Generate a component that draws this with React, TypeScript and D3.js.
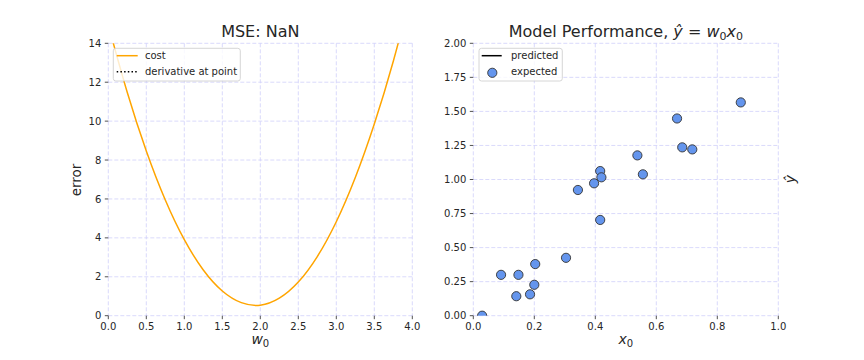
import * as d3 from 'd3'

// cost curve (w0 -> error)
const costW = [0, 0.25, 0.5, 0.75, 1.0, 1.25, 1.5, 1.75, 2.0, 2.25, 2.5, 2.75, 3.0, 3.25, 3.5, 3.75, 4.0]
const costVal = [14.94, 11.47, 8.47, 5.95, 3.91, 2.35, 1.27, 0.67, 0.54, 0.9, 1.73, 3.04, 4.83, 7.1, 9.85, 13.08, 16.78]

// expected points in the right panel
const pointX = [0.029, 0.091, 0.148, 0.141, 0.186, 0.2, 0.203, 0.304, 0.343, 0.396, 0.416, 0.42, 0.416, 0.538, 0.556, 0.668, 0.685, 0.718, 0.877]
const pointY = [0.0, 0.3, 0.3, 0.143, 0.157, 0.227, 0.379, 0.425, 0.923, 0.972, 1.062, 1.016, 0.703, 1.177, 1.038, 1.448, 1.236, 1.221, 1.566]

const leftXTicks = [0, 0.5, 1.0, 1.5, 2.0, 2.5, 3.0, 3.5, 4.0]
const leftYTicks = [0, 2, 4, 6, 8, 10, 12, 14]
const rightXTicks = [0, 0.2, 0.4, 0.6, 0.8, 1.0]
const rightYTicks = [0, 0.25, 0.5, 0.75, 1.0, 1.25, 1.5, 1.75, 2.0]

const FONT = 'DejaVu Sans, sans-serif'
const GRID = '#d0d0fa'
const TXT = '#262626'

const top = 43.3
const bottom = 315.7

function Panel({
  id,
  left,
  right,
  xScale,
  yScale,
  xTicks,
  yTicks,
  xFmt,
  yFmt,
  children,
}: {
  id: string
  left: number
  right: number
  xScale: d3.ScaleLinear<number, number>
  yScale: d3.ScaleLinear<number, number>
  xTicks: number[]
  yTicks: number[]
  xFmt: (v: number) => string
  yFmt: (v: number) => string
  children?: any
}) {
  return (
    <g>
      <defs>
        <clipPath id={id}>
          <rect x={left} y={top} width={right - left} height={bottom - top} />
        </clipPath>
      </defs>
      {xTicks.map((t) => (
        <line key={'gx' + t} x1={xScale(t)} x2={xScale(t)} y1={top} y2={bottom}
          stroke={GRID} strokeWidth={0.8} strokeDasharray="4,2" />
      ))}
      {yTicks.map((t) => (
        <line key={'gy' + t} x1={left} x2={right} y1={yScale(t)} y2={yScale(t)}
          stroke={GRID} strokeWidth={0.8} strokeDasharray="4,2" />
      ))}
      {xTicks.map((t) => (
        <g key={'tx' + t}>
          <line x1={xScale(t)} x2={xScale(t)} y1={bottom} y2={bottom + 3.5} stroke={TXT} strokeWidth={0.8} />
          <text x={xScale(t)} y={330} fontSize={10} textAnchor="middle" fill={TXT}>{xFmt(t)}</text>
        </g>
      ))}
      {yTicks.map((t) => (
        <g key={'ty' + t}>
          <line x1={left - 3.5} x2={left} y1={yScale(t)} y2={yScale(t)} stroke={TXT} strokeWidth={0.8} />
          <text x={left - 7} y={yScale(t) + 3.6} fontSize={10} textAnchor="end" fill={TXT}>{yFmt(t)}</text>
        </g>
      ))}
      <g clipPath={`url(#${id})`}>{children}</g>
    </g>
  )
}

export default function App() {
  const lx = d3.scaleLinear().domain([0, 4]).range([108.3, 412.3])
  const ly = d3.scaleLinear().domain([0, 14]).range([bottom, top])
  const rx = d3.scaleLinear().domain([0, 1]).range([473.3, 778.3])
  const ry = d3.scaleLinear().domain([0, 2]).range([bottom, top])

  const costLine = d3
    .line<number>()
    .x((_, i) => lx(costW[i]))
    .y((d) => ly(d))
    .curve(d3.curveNatural)(costVal) ?? ''

  return (
    <div style={{ position: 'fixed', left: 0, top: 0 }}>
      <svg width={864} height={360} style={{ display: 'block', background: '#fff', fontFamily: FONT }}>
        <Panel id="clipL" left={108.3} right={412.3} xScale={lx} yScale={ly}
          xTicks={leftXTicks} yTicks={leftYTicks} xFmt={d3.format('.1f')} yFmt={d3.format('d')}>
          <path d={costLine} fill="none" stroke="#ffa500" strokeWidth={1.5} />
        </Panel>
        <Panel id="clipR" left={473.3} right={778.3} xScale={rx} yScale={ry}
          xTicks={rightXTicks} yTicks={rightYTicks} xFmt={d3.format('.1f')} yFmt={d3.format('.2f')}>
          {pointX.map((x, i) => (
            <circle key={i} cx={rx(x)} cy={ry(pointY[i])} r={4.6} fill="#6495ed" stroke="#333" strokeWidth={0.9} />
          ))}
        </Panel>

        {/* titles */}
        <text x={260.3} y={37} fontSize={16} textAnchor="middle" fill={TXT}>MSE: NaN</text>
        <text x={625.8} y={37} fontSize={16} textAnchor="middle" fill={TXT}>
          Model Performance,{' '}
          <tspan fontStyle="italic">ŷ</tspan>
          <tspan> = </tspan>
          <tspan fontStyle="italic">w</tspan>
          <tspan fontSize={11} dy={2.5}>0</tspan>
          <tspan fontStyle="italic" dy={-2.5}>x</tspan>
          <tspan fontSize={11} dy={2.5}>0</tspan>
        </text>

        {/* axis labels */}
        <text transform="translate(81,180) rotate(-90)" fontSize={13.5} textAnchor="middle" fill={TXT}>error</text>
        <text x={260.3} y={344} fontSize={14} textAnchor="middle" fill={TXT}>
          <tspan fontStyle="italic">w</tspan>
          <tspan fontSize={10} dy={2.5}>0</tspan>
        </text>
        <text x={625.8} y={344} fontSize={14} textAnchor="middle" fill={TXT}>
          <tspan fontStyle="italic">x</tspan>
          <tspan fontSize={10} dy={2.5}>0</tspan>
        </text>
        <text transform="translate(795,179) rotate(-90)" fontSize={14} textAnchor="middle" fill={TXT}>
          <tspan fontStyle="italic">ŷ</tspan>
        </text>

        {/* left legend */}
        <rect x={113.3} y={48.3} width={127} height={32.7} rx={2.5} fill="#fff" fillOpacity={0.8} stroke="#ccc" strokeWidth={0.8} />
        <line x1={116.7} x2={137.7} y1={55.7} y2={55.7} stroke="#ffa500" strokeWidth={1.5} />
        <text x={145} y={59.4} fontSize={10} fill={TXT}>cost</text>
        <line x1={116.7} x2={137.7} y1={71.7} y2={71.7} stroke="#000" strokeWidth={1.5} strokeDasharray="1.5,2.2" />
        <text x={145} y={75.4} fontSize={10} fill={TXT}>derivative at point</text>

        {/* right legend */}
        <rect x={479} y={48.3} width={83.3} height={32.7} rx={2.5} fill="#fff" fillOpacity={0.8} stroke="#ccc" strokeWidth={0.8} />
        <line x1={481.7} x2={501.7} y1={55.7} y2={55.7} stroke="#000" strokeWidth={1.5} />
        <text x={511} y={59.4} fontSize={10} fill={TXT}>predicted</text>
        <circle cx={492.3} cy={72.8} r={4.6} fill="#6495ed" stroke="#333" strokeWidth={0.9} />
        <text x={511} y={75.4} fontSize={10} fill={TXT}>expected</text>
      </svg>
    </div>
  )
}
